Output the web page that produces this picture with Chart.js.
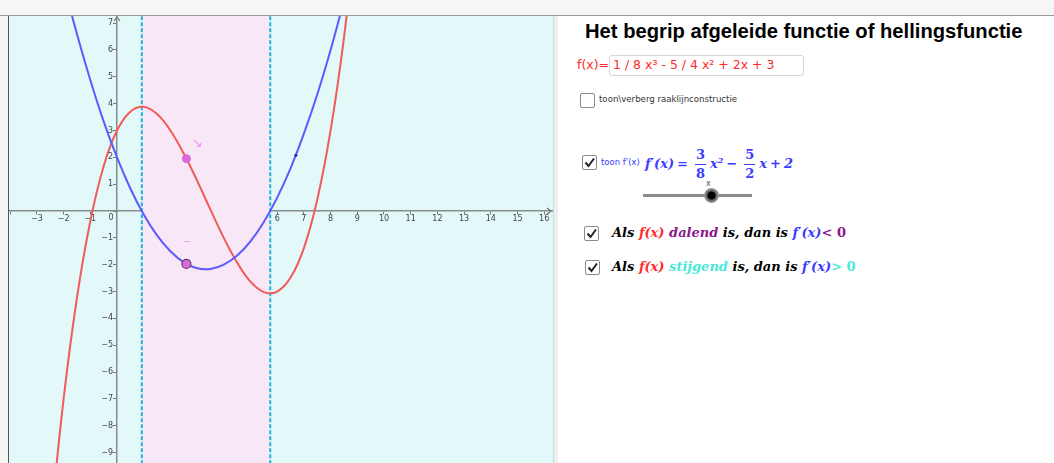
<!DOCTYPE html>
<html>
<head>
<meta charset="utf-8">
<script src="https://cdn.jsdelivr.net/npm/chart.js@4.4.1/dist/chart.umd.min.js"></script>
<style>
  body { margin: 0; width: 1054px; height: 463px; overflow: hidden; background: #fff; position: relative; font-family: "DejaVu Sans", sans-serif; }
  .abs { position: absolute; white-space: nowrap; }
  #topbar { left: 0; top: 0; width: 1054px; height: 15px; background: #f6f6f6; border-bottom: 1px solid #9a9a9a; }
  #leftbar { left: 0; top: 16px; width: 8px; height: 447px; background: #f5f5f5; border-right: 1px solid #555; }
  #graph { left: 9px; top: 16px; width: 544px; height: 447px; background: #e3f8f8; }
  #rightedge { left: 553px; top: 16px; width: 4px; height: 447px; background: #efefef; border-left: 1px solid #b6dede; }
  h1 { position: absolute; left: 585px; top: 20px; margin: 0; font-family: "Liberation Sans", Arial, sans-serif; font-size: 20.2px; font-weight: bold; color: #000; white-space: nowrap; }
  .cb { position: absolute; width: 13px; height: 13px; border: 1px solid #8a8a8a; border-radius: 2px; background: #fff; }
  .cb svg { position: absolute; left: 1px; top: 1px; }
  .math { font-family: "DejaVu Serif", serif; font-weight: bold; font-style: italic; }
  .frac { display: inline-block; vertical-align: middle; text-align: center; font-style: normal; line-height: 18px; margin: 0 4px; font-size: 13px; }
  .frac span { display: block; padding: 0 1px; }
  .op { font-style: normal; margin: 0 3px; }
  .red { color: #ff2a2a; }
  .blue { color: #3c3cff; }
  .purple { color: #8a1a8a; }
  .turq { color: #48e8d8; }
</style>
</head>
<body>
<div id="topbar" class="abs"></div>
<div id="leftbar" class="abs"></div>
<div id="graph" class="abs"><canvas id="graphChart" width="544" height="447"></canvas></div>
<div id="rightedge" class="abs"></div>

<h1>Het begrip afgeleide functie of hellingsfunctie</h1>

<div class="abs red" style="left:577px; top:57px; font-size:12.5px;">f(x)=</div>
<div class="abs" style="left:609px; top:55px; width:193px; height:19px; border:1px solid #d6d6d6; border-radius:3px;"></div>
<div class="abs red" style="left:613px; top:57px; font-size:12.5px;">1 / 8 x³ - 5 / 4 x² + 2x + 3</div>

<div class="cb" style="left:580px; top:93px;"></div>
<div class="abs" style="left:599px; top:94px; font-size:8.6px; color:#333;">toon\verberg raaklijnconstructie</div>

<div class="cb" style="left:582px; top:155px;"><svg width="11" height="11"><polyline points="1.5,5.5 4.5,9 10,1.5" fill="none" stroke="#222" stroke-width="2"/></svg></div>
<div class="abs blue" style="left:601px; top:157px; font-size:8.5px;">toon f'(x)</div>
<div class="abs blue math" style="left:645px; top:139px; font-size:13px; line-height:42px;">f′(x)<span class="op">=</span><span class="frac"><span>3</span><span style="border-top:1.5px solid #3c3cff;">8</span></span>x<sup style="font-size:8px;">2</sup><span class="op">−</span><span class="frac"><span>5</span><span style="border-top:1.5px solid #3c3cff;">2</span></span>x<span class="op">+</span>2</div>

<div class="abs" style="left:706px; top:179px; font-size:8px; color:#555;">x</div>
<div class="abs" style="left:643px; top:194px; width:109px; height:3px; background:#8c8c8c;"></div>
<div class="abs" style="left:704px; top:188px; width:15px; height:15px; border-radius:50%; background:radial-gradient(circle, #000 0 3.5px, #5a5a5a 4.5px, #a8a8a8 7.5px);"></div>

<div class="cb" style="left:584px; top:226px;"><svg width="11" height="11"><polyline points="1.5,5.5 4.5,9 10,1.5" fill="none" stroke="#222" stroke-width="2"/></svg></div>
<div class="abs math" style="left:612px; top:225px; font-size:13px;">Als <span class="red">f(x)</span> <span class="purple">dalend</span> is, dan is <span class="blue">f′(x)</span><span class="purple" style="font-style:normal;">&lt; 0</span></div>

<div class="cb" style="left:585px; top:260px;"><svg width="11" height="11"><polyline points="1.5,5.5 4.5,9 10,1.5" fill="none" stroke="#222" stroke-width="2"/></svg></div>
<div class="abs math" style="left:612px; top:259px; font-size:13px;">Als <span class="red">f(x)</span> <span class="turq">stijgend</span> is, dan is <span class="blue">f′(x)</span><span class="turq" style="font-style:normal;">&gt; 0</span></div>

<script>
const xValues  = [-2.5, -2, -1.5, -1, -0.5, 0, 0.5, 1, 1.5, 2, 2.5, 3, 3.5, 4, 4.5, 5, 5.5, 6, 6.5, 7, 7.5, 8, 8.5, 9];
const fValues  = [-11.77, -7, -3.23, -0.38, 1.67, 3, 3.70, 3.88, 3.61, 3, 2.14, 1.13, 0.05, -1, -1.92, -2.63, -3.02, -3, -2.48, -1.38, 0.42, 3, 6.45, 10.88];
const dfValues = [10.59, 8.5, 6.59, 4.88, 3.34, 2, 0.84, -0.13, -0.91, -1.5, -1.91, -2.13, -2.16, -2, -1.66, -1.13, -0.41, 0.5, 1.59, 2.88, 4.34, 6, 7.84, 9.88];
const dfZeros  = [0.93, 5.74];          // dashed lines, band between them
const pointX   = 2.6;
const pointF   = 1.95;
const pointDf  = -1.97;
const smallDot = [6.7, 2.08];
const xRange   = [-4.045, 16.33];
const yRange   = [-9.385, 7.263];
const hiddenXTicks = [-4];

const redColor = '#f25a5a';
const blueColor = '#5a5aff';
const pinkColor = '#d86ad8';
const dashColor = '#1db5d6';
const tickFont = '8px "DejaVu Sans", sans-serif';

function pairs(xs, ys) {
    return xs.map(function (x, i) { return { x: x, y: ys[i] }; });
}

function minusLabel(v) {
    return v < 0 ? '\u2212' + (-v) : '' + v;
}

// no label padding: the plot fills the whole view
function noPadding(scale) {
    scale.paddingLeft = 0;
    scale.paddingRight = 0;
    scale.paddingTop = 0;
    scale.paddingBottom = 0;
}

const decorations = {
    id: 'decorations',
    afterDraw: function (chart) {
        const ctx = chart.ctx;
        const xs = chart.scales.x, ys = chart.scales.y;
        const x0 = xs.getPixelForValue(0), y0 = ys.getPixelForValue(0);
        const area = chart.chartArea;
        ctx.save();
        // axis arrows
        ctx.strokeStyle = '#777';
        ctx.lineWidth = 1.2;
        ctx.beginPath();
        ctx.moveTo(area.right - 6, y0 - 3); ctx.lineTo(area.right - 2, y0); ctx.lineTo(area.right - 6, y0 + 3);
        ctx.moveTo(x0 - 3, area.top + 5); ctx.lineTo(x0, area.top + 1); ctx.lineTo(x0 + 3, area.top + 5);
        ctx.stroke();
        // y tick labels, left of the axis
        ctx.fillStyle = '#444';
        ctx.font = tickFont;
        ctx.textAlign = 'right';
        ctx.textBaseline = 'middle';
        ys.ticks.forEach(function (t) {
            if (t.value === 0) return;
            ctx.fillText(minusLabel(t.value), x0 - 4, ys.getPixelForValue(t.value));
        });
        // origin label
        ctx.textAlign = 'center';
        ctx.fillText('0', x0 - 6, y0 + 7);
        // sign captions of the point
        ctx.fillStyle = '#ec9aec';
        ctx.font = '13px "DejaVu Sans", sans-serif';
        ctx.fillText('\u2198', xs.getPixelForValue(3.0), ys.getPixelForValue(2.5));
        ctx.fillText('\u2013', xs.getPixelForValue(2.62), ys.getPixelForValue(-1.15));
        ctx.restore();
    }
};

const graphCtx = document.getElementById('graphChart').getContext('2d');
new Chart(graphCtx, {
    type: 'scatter',
    data: {
        datasets: [
            {
                // pink band where f' < 0
                data: [{ x: dfZeros[0], y: 9 }, { x: dfZeros[1], y: 9 }],
                showLine: true,
                borderWidth: 0,
                pointRadius: 0,
                backgroundColor: '#f8e7f7',
                fill: 'start',
                order: 10
            },
            {
                data: [{ x: dfZeros[0], y: -11 }, { x: dfZeros[0], y: 9 }],
                showLine: true,
                borderColor: dashColor,
                borderWidth: 2,
                borderDash: [4, 2],
                pointRadius: 0,
                order: 8
            },
            {
                data: [{ x: dfZeros[1], y: -11 }, { x: dfZeros[1], y: 9 }],
                showLine: true,
                borderColor: dashColor,
                borderWidth: 2,
                borderDash: [4, 2],
                pointRadius: 0,
                order: 8
            },
            {
                label: 'f(x)',
                data: pairs(xValues, fValues),
                showLine: true,
                borderColor: redColor,
                borderWidth: 2,
                tension: 0.4,
                pointRadius: 0,
                order: 5
            },
            {
                label: "f'(x)",
                data: pairs(xValues, dfValues),
                showLine: true,
                borderColor: blueColor,
                borderWidth: 2,
                tension: 0.4,
                pointRadius: 0,
                order: 4
            },
            {
                data: [{ x: pointX, y: pointF }],
                pointRadius: 4.5,
                backgroundColor: pinkColor,
                borderColor: pinkColor,
                borderWidth: 0,
                order: 1
            },
            {
                data: [{ x: pointX, y: pointDf }],
                pointRadius: 4.5,
                backgroundColor: pinkColor,
                borderColor: '#6b3a6b',
                borderWidth: 1.2,
                order: 1
            },
            {
                data: [{ x: smallDot[0], y: smallDot[1] }],
                pointRadius: 1.5,
                backgroundColor: '#2a2aa0',
                borderWidth: 0,
                order: 1
            }
        ]
    },
    options: {
        responsive: false,
        animation: false,
        devicePixelRatio: 1,
        layout: { padding: 0, autoPadding: false },
        plugins: {
            legend: { display: false },
            tooltip: { enabled: false }
        },
        scales: {
            x: {
                type: 'linear',
                min: xRange[0],
                max: xRange[1],
                position: { y: 0 },
                z: 1,
                afterFit: noPadding,
                grid: { drawOnChartArea: false, drawTicks: true, tickLength: 3, color: '#777' },
                border: { color: '#8a8a8a', width: 1.5 },
                ticks: {
                    stepSize: 1,
                    includeBounds: false,
                    autoSkip: false,
                    maxRotation: 0,
                    padding: 0,
                    color: '#444',
                    font: { size: 8, family: '"DejaVu Sans", sans-serif' },
                    callback: function (v) {
                        if (v === 0 || hiddenXTicks.indexOf(v) >= 0) return '';
                        return minusLabel(v);
                    }
                }
            },
            y: {
                type: 'linear',
                min: yRange[0],
                max: yRange[1],
                position: { x: 0 },
                z: 1,
                afterFit: noPadding,
                grid: { drawOnChartArea: false, drawTicks: true, tickLength: 3, color: '#777' },
                border: { color: '#8a8a8a', width: 1.5 },
                ticks: {
                    display: false,
                    stepSize: 1,
                    includeBounds: false
                }
            }
        }
    },
    plugins: [decorations]
});
</script>
</body>
</html>
